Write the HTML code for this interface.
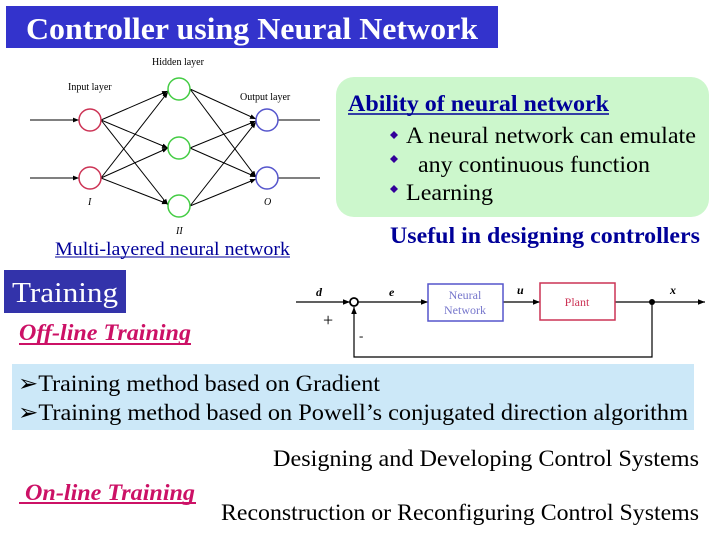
<!DOCTYPE html>
<html><head><meta charset="utf-8"><style>
html,body{margin:0;padding:0;background:#fff;}
svg{display:block;}
svg text{font-family:"Liberation Serif","Times New Roman",Times,serif;}
</style></head><body>
<svg width="720" height="540" viewBox="0 0 720 540" xmlns="http://www.w3.org/2000/svg" font-family="Liberation Serif, Times New Roman, serif">
<defs>
<marker id="a" viewBox="0 0 10 10" refX="10" refY="5" markerWidth="6" markerHeight="6" orient="auto"><path d="M0,1 L10,5 L0,9 z" fill="#000"/></marker>
</defs>
<rect x="6" y="6" width="492" height="42" fill="#3333cc"/>
<text x="252" y="39" font-size="31" font-weight="bold" fill="#fff" text-anchor="middle" textLength="452" lengthAdjust="spacingAndGlyphs">Controller using Neural Network</text>

<g stroke="#000" stroke-width="1" fill="none" marker-end="url(#a)">
<line x1="30" y1="120" x2="79" y2="120"/>
<line x1="30" y1="178" x2="79" y2="178"/>
<line x1="101" y1="120" x2="168" y2="91"/>
<line x1="101" y1="120" x2="168" y2="148"/>
<line x1="101" y1="120" x2="168" y2="205"/>
<line x1="101" y1="178" x2="168" y2="92"/>
<line x1="101" y1="178" x2="168" y2="148"/>
<line x1="101" y1="178" x2="168" y2="204"/>
<line x1="190" y1="89" x2="256" y2="119"/>
<line x1="190" y1="89" x2="256" y2="177"/>
<line x1="190" y1="148" x2="256" y2="121"/>
<line x1="190" y1="148" x2="256" y2="177"/>
<line x1="190" y1="206" x2="256" y2="122"/>
<line x1="190" y1="206" x2="256" y2="179"/>
</g>
<line x1="278" y1="120" x2="320" y2="120" stroke="#000"/>
<line x1="278" y1="178" x2="320" y2="178" stroke="#000"/>
<g fill="#fff" stroke-width="1.5">
<circle cx="90" cy="120" r="11" stroke="#cc3355"/>
<circle cx="90" cy="178" r="11" stroke="#cc3355"/>
<circle cx="179" cy="89" r="11" stroke="#44cc44"/>
<circle cx="179" cy="148" r="11" stroke="#44cc44"/>
<circle cx="179" cy="206" r="11" stroke="#44cc44"/>
<circle cx="267" cy="120" r="11" stroke="#5555cc"/>
<circle cx="267" cy="178" r="11" stroke="#5555cc"/>
</g>
<g font-size="10" fill="#000">
<text x="152" y="65">Hidden layer</text>
<text x="68" y="90">Input layer</text>
<text x="240" y="100">Output layer</text>
<text x="88" y="205" font-style="italic">I</text>
<text x="176" y="234" font-style="italic">II</text>
<text x="264" y="205" font-style="italic">O</text>
</g>
<text x="55" y="255" font-size="19" fill="#000099" textLength="235" lengthAdjust="spacingAndGlyphs">Multi-layered neural network</text>
<line x1="55" y1="257" x2="290" y2="257" stroke="#000099" stroke-width="1"/>

<rect x="336" y="77" width="373" height="140" rx="18" fill="#ccf7cc"/>
<text x="348" y="111" font-size="23" font-weight="bold" fill="#000099" textLength="261" lengthAdjust="spacingAndGlyphs">Ability of neural network</text>
<line x1="348" y1="114" x2="609" y2="114" stroke="#000099" stroke-width="1.5"/>
<g fill="#330099">
<path d="M394,131 l4,4 l-4,4 l-4,-4z"/>
<path d="M394,155 l4,4 l-4,4 l-4,-4z"/>
<path d="M394,185 l4,4 l-4,4 l-4,-4z"/>
</g>
<g font-size="23" fill="#000">
<text x="406" y="143" textLength="290" lengthAdjust="spacingAndGlyphs">A neural network can emulate</text>
<text x="418" y="172" textLength="232" lengthAdjust="spacingAndGlyphs">any continuous function</text>
<text x="406" y="200" textLength="87" lengthAdjust="spacingAndGlyphs">Learning</text>
</g>
<text x="390" y="243" font-size="23" font-weight="bold" fill="#000099" textLength="310" lengthAdjust="spacingAndGlyphs">Useful in designing controllers</text>

<rect x="4" y="270" width="122" height="43" fill="#3333aa"/>
<text x="12" y="302" font-size="28" fill="#fff" textLength="106" lengthAdjust="spacingAndGlyphs">Training</text>
<text x="19" y="340" font-size="23" font-weight="bold" font-style="italic" fill="#cc1166" textLength="172" lengthAdjust="spacingAndGlyphs">Off-line Training</text>
<line x1="19" y1="344" x2="191" y2="344" stroke="#cc1166" stroke-width="2"/>

<g stroke="#000" stroke-width="1.2" fill="none">
<line x1="296" y1="302" x2="350" y2="302" marker-end="url(#a)"/>
<line x1="358" y1="302" x2="428" y2="302" marker-end="url(#a)"/>
<line x1="503" y1="302" x2="540" y2="302" marker-end="url(#a)"/>
<line x1="615" y1="302" x2="705" y2="302" marker-end="url(#a)"/>
<polyline points="652,302 652,357 354,357 354,307" marker-end="url(#a)"/>
<circle cx="354" cy="302" r="4" stroke-width="1.8" fill="#fff"/>
</g>
<circle cx="652" cy="302" r="3" fill="#000"/>
<rect x="428" y="284" width="75" height="37" fill="#fff" stroke="#5555cc" stroke-width="1.5"/>
<rect x="540" y="283" width="75" height="37" fill="#fff" stroke="#cc3355" stroke-width="1.5"/>
<g font-size="12" text-anchor="middle">
<text x="465" y="299" fill="#7777cc">Neural</text>
<text x="465" y="314" fill="#7777cc">Network</text>
<text x="577" y="306" fill="#cc3355">Plant</text>
</g>
<g font-size="12" font-style="italic" font-weight="bold">
<text x="316" y="296">d</text>
<text x="389" y="296">e</text>
<text x="517" y="294">u</text>
<text x="670" y="294">x</text>
</g>
<text x="323" y="326" font-size="18">+</text>
<text x="359" y="340" font-size="13">-</text>

<rect x="12" y="364" width="682" height="66" fill="#cce8f8"/>
<g font-size="23" fill="#000">
<text x="18" y="391" textLength="362" lengthAdjust="spacingAndGlyphs">➢Training method based on Gradient</text>
<text x="18" y="420" textLength="670" lengthAdjust="spacingAndGlyphs">➢Training method based on  Powell’s conjugated direction algorithm</text>
</g>
<text x="273" y="466" font-size="23" textLength="426" lengthAdjust="spacingAndGlyphs">Designing and Developing  Control Systems</text>
<text x="25" y="500" font-size="23" font-weight="bold" font-style="italic" fill="#cc1166" textLength="170" lengthAdjust="spacingAndGlyphs">On-line Training</text>
<line x1="19" y1="503" x2="196" y2="503" stroke="#cc1166" stroke-width="2"/>
<text x="221" y="520" font-size="23" textLength="478" lengthAdjust="spacingAndGlyphs">Reconstruction or Reconfiguring Control Systems</text>
</svg>
</body></html>
